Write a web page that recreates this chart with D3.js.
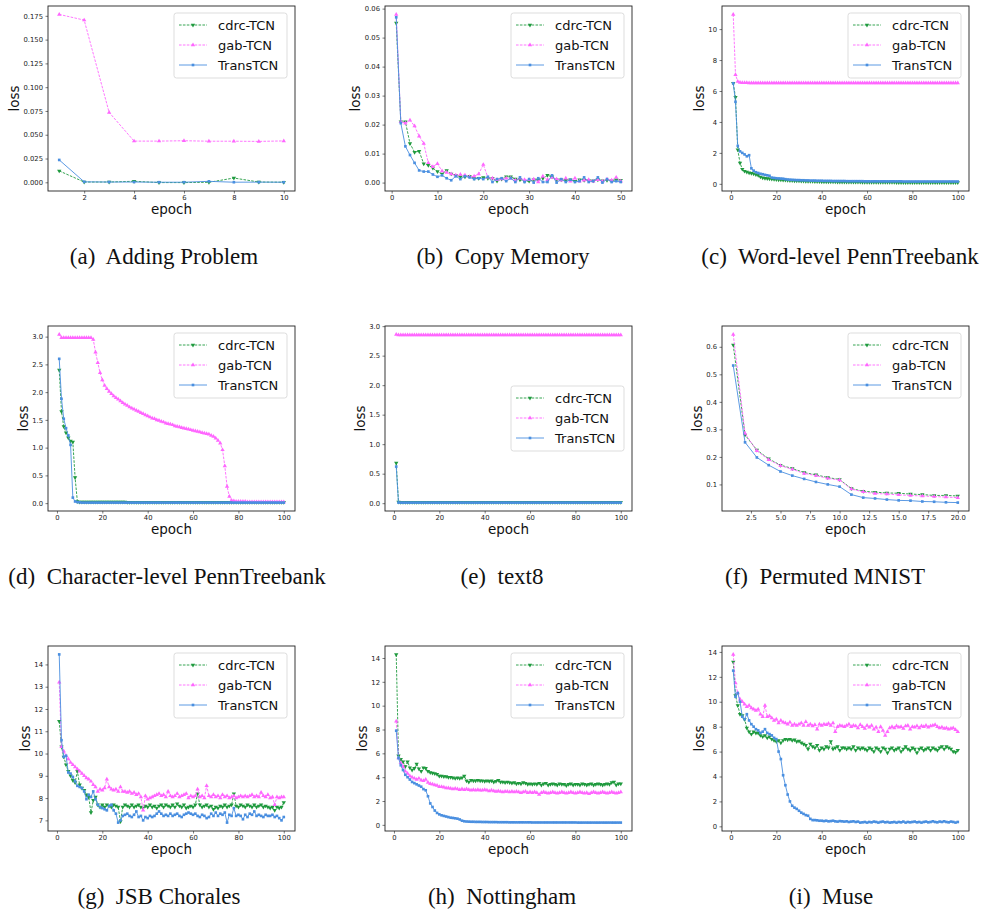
<!DOCTYPE html>
<html>
<head>
<meta charset="utf-8">
<script src="https://cdn.jsdelivr.net/npm/d3@7"></script>
<style>
  body { margin: 0; background: #fff; }
  text { font-family: "DejaVu Sans", sans-serif; }
</style>
</head>
<body>
<svg id="fig" width="984" height="909"></svg>
<script>
// ---- data (loss per epoch, epoch = index + 1) ----
const seriesNames = ["cdrc-TCN", "gab-TCN", "TransTCN"];

// (a) Adding Problem
const addCdrc = [0.012, 0.0003, 0.0003, 0.0011, -0.0003, -0.0003, 0.0, 0.0045, 0.0003, 0.0001];
const addGab = [0.1765, 0.1705, 0.0735, 0.0433, 0.0433, 0.0437, 0.0432, 0.0432, 0.043, 0.0435];
const addTrans = [0.0235, 0.0005, 0.0003, 0.0003, 0.0001, 0.0001, 0.001, 0.0001, 0.0002, 0.0001];

// (b) Copy Memory
const copyCdrc = [
  0.055, 0.021, 0.021, 0.0135, 0.0105, 0.0108, 0.0065, 0.006, 0.005, 0.0038,
  0.003, 0.0042, 0.003, 0.0025, 0.002, 0.002, 0.0022, 0.0015, 0.0015, 0.0018,
  0.0015, 0.0015, 0.0005, 0.0012, 0.002, 0.002, 0.0012, 0.001, 0.0005, 0.0005,
  0.001, 0.001, 0.0015, 0.0025, 0.002, 0.001, 0.001, 0.0008, 0.001, 0.0005,
  0.001, 0.0008, 0.0008, 0.0006, 0.001, 0.0006, 0.0008, 0.0006, 0.001, 0.0008];
const copyGab = [
  0.058, 0.021, 0.0205, 0.0215, 0.0195, 0.016, 0.0135, 0.0068, 0.0055, 0.0065,
  0.004, 0.0035, 0.003, 0.0025, 0.0028, 0.0025, 0.002, 0.0022, 0.003, 0.0062,
  0.0018, 0.0015, 0.001, 0.0012, 0.0015, 0.0015, 0.0008, 0.0015, 0.001, 0.001,
  0.0012, 0.0002, 0.0022, 0.001, 0.0018, 0.0012, 0.0008, 0.0015, 0.0005, 0.0015,
  0.0005, 0.0008, 0.001, 0.0005, 0.001, 0.0005, 0.0012, 0.0008, 0.0018, 0.0005];
const copyTrans = [
  0.057, 0.0205, 0.0125, 0.0095, 0.0068, 0.0042, 0.0038, 0.0038, 0.0028, 0.002,
  0.0025, 0.0015, 0.0008, 0.0022, 0.0012, 0.0022, 0.0018, 0.0012, 0.0015, 0.0012,
  0.002, 0.0002, 0.0012, 0.0015, 0.0005, 0.0015, 0.0002, 0.0018, 0.0002, 0.0012,
  0.0, 0.0015, 0.0002, 0.0002, 0.0025, 0.0, 0.0012, 0.0002, 0.001, 0.0002,
  0.0005, 0.0018, 0.0002, 0.0005, 0.0018, 0.0, 0.0012, 0.0002, 0.0005, 0.0002];

// (c) Word-level PennTreebank
const wordCdrc = [
  6.5, 5.6, 2.2, 1.35, 0.95, 0.82, 0.76, 0.72, 0.68, 0.65,
  0.6, 0.55, 0.45, 0.39, 0.36, 0.34, 0.33, 0.31, 0.29, 0.28,
  0.27, 0.26, 0.25, 0.24, 0.23, 0.22, 0.21, 0.2, 0.2, 0.19,
  0.18, 0.18, 0.17, 0.17, 0.16, 0.16, 0.15, 0.15, 0.15, 0.14,
  0.14, 0.14, 0.13, 0.13, 0.13, 0.13, 0.12, 0.12, 0.12, 0.12,
  0.12, 0.11, 0.11, 0.11, 0.11, 0.11, 0.11, 0.1, 0.1, 0.1,
  0.1, 0.1, 0.1, 0.1, 0.1, 0.1, 0.1, 0.1, 0.1, 0.1,
  0.1, 0.1, 0.09, 0.09, 0.09, 0.09, 0.09, 0.09, 0.09, 0.09,
  0.09, 0.09, 0.09, 0.09, 0.09, 0.09, 0.09, 0.09, 0.09, 0.09,
  0.09, 0.09, 0.09, 0.08, 0.08, 0.08, 0.08, 0.08, 0.08, 0.08];
const wordGab = [
  10.95, 7.05, 6.62, 6.55, 6.54, 6.53, 6.53, 6.52, 6.52, 6.52,
  6.52, 6.52, 6.52, 6.52, 6.52, 6.52, 6.52, 6.52, 6.52, 6.52,
  6.52, 6.52, 6.52, 6.52, 6.52, 6.52, 6.52, 6.52, 6.52, 6.52,
  6.52, 6.52, 6.52, 6.52, 6.52, 6.52, 6.52, 6.52, 6.52, 6.52,
  6.52, 6.52, 6.52, 6.52, 6.52, 6.52, 6.52, 6.52, 6.52, 6.52,
  6.52, 6.52, 6.52, 6.52, 6.52, 6.52, 6.52, 6.52, 6.52, 6.52,
  6.52, 6.52, 6.52, 6.52, 6.52, 6.52, 6.52, 6.52, 6.52, 6.52,
  6.52, 6.52, 6.52, 6.52, 6.52, 6.52, 6.52, 6.52, 6.52, 6.52,
  6.52, 6.52, 6.52, 6.52, 6.52, 6.52, 6.52, 6.52, 6.52, 6.52,
  6.52, 6.52, 6.52, 6.52, 6.52, 6.52, 6.52, 6.52, 6.52, 6.52];
const wordTrans = [
  6.5, 5.3, 2.45, 2.1, 2.0, 1.9, 1.78, 1.85, 1.0, 0.85,
  0.75, 0.7, 0.65, 0.62, 0.58, 0.55, 0.52, 0.4, 0.38, 0.36,
  0.35, 0.34, 0.33, 0.3, 0.28, 0.27, 0.26, 0.25, 0.24, 0.24,
  0.23, 0.23, 0.22, 0.22, 0.21, 0.21, 0.21, 0.2, 0.2, 0.2,
  0.19, 0.19, 0.19, 0.19, 0.18, 0.18, 0.18, 0.18, 0.18, 0.18,
  0.17, 0.17, 0.17, 0.17, 0.17, 0.17, 0.17, 0.17, 0.16, 0.16,
  0.16, 0.16, 0.16, 0.16, 0.16, 0.16, 0.16, 0.16, 0.16, 0.16,
  0.16, 0.16, 0.16, 0.16, 0.16, 0.15, 0.15, 0.15, 0.15, 0.15,
  0.15, 0.15, 0.15, 0.15, 0.15, 0.15, 0.15, 0.15, 0.15, 0.15,
  0.15, 0.15, 0.15, 0.15, 0.15, 0.15, 0.15, 0.15, 0.15, 0.15];

// (d) Character-level PennTreebank
const charCdrc = [
  2.4, 1.65, 1.38, 1.27, 1.18, 1.12, 1.1, 0.46, 0.03, 0.02,
  0.02, 0.02, 0.02, 0.02, 0.02, 0.02, 0.02, 0.02, 0.02, 0.02,
  0.02, 0.02, 0.02, 0.02, 0.02, 0.02, 0.02, 0.02, 0.02, 0.02,
  0.015, 0.015, 0.015, 0.015, 0.015, 0.015, 0.015, 0.015, 0.015, 0.015,
  0.015, 0.015, 0.015, 0.015, 0.015, 0.015, 0.015, 0.015, 0.015, 0.015,
  0.015, 0.015, 0.015, 0.015, 0.015, 0.015, 0.015, 0.015, 0.015, 0.015,
  0.015, 0.015, 0.015, 0.015, 0.015, 0.015, 0.015, 0.015, 0.015, 0.015,
  0.015, 0.015, 0.015, 0.015, 0.015, 0.015, 0.015, 0.015, 0.015, 0.015,
  0.015, 0.015, 0.015, 0.015, 0.015, 0.015, 0.015, 0.015, 0.015, 0.015,
  0.015, 0.015, 0.015, 0.015, 0.015, 0.015, 0.015, 0.015, 0.015, 0.015];
const charGab = [
  3.04, 2.98, 2.98, 2.98, 2.98, 2.98, 2.98, 2.98, 2.98, 2.98,
  2.98, 2.98, 2.98, 2.98, 2.98, 2.95, 2.72, 2.53, 2.35, 2.22,
  2.12, 2.06, 2.01, 1.97, 1.93, 1.9, 1.87, 1.84, 1.81, 1.78,
  1.76, 1.73, 1.71, 1.69, 1.67, 1.65, 1.63, 1.61, 1.59, 1.57,
  1.55, 1.53, 1.52, 1.5, 1.49, 1.47, 1.46, 1.44, 1.43, 1.42,
  1.41, 1.39, 1.38, 1.37, 1.36, 1.35, 1.34, 1.33, 1.32, 1.31,
  1.3, 1.29, 1.28, 1.27, 1.26, 1.25, 1.24, 1.22, 1.2, 1.17,
  1.13, 1.08, 0.96, 0.67, 0.3, 0.12, 0.05, 0.04, 0.03, 0.03,
  0.03, 0.03, 0.03, 0.02, 0.02, 0.02, 0.02, 0.02, 0.02, 0.02,
  0.02, 0.02, 0.02, 0.02, 0.02, 0.02, 0.02, 0.02, 0.02, 0.02];
const charTrans = [
  2.6, 1.88, 1.52, 1.35, 1.22, 1.05, 0.1, 0.03, 0.02, 0.015,
  0.01, 0.01, 0.01, 0.01, 0.01, 0.01, 0.01, 0.01, 0.01, 0.01,
  0.01, 0.01, 0.01, 0.01, 0.01, 0.01, 0.01, 0.01, 0.01, 0.01,
  0.01, 0.01, 0.01, 0.01, 0.01, 0.01, 0.01, 0.01, 0.01, 0.01,
  0.01, 0.01, 0.01, 0.01, 0.01, 0.01, 0.01, 0.01, 0.01, 0.01,
  0.01, 0.01, 0.01, 0.01, 0.01, 0.01, 0.01, 0.01, 0.01, 0.01,
  0.01, 0.01, 0.01, 0.01, 0.01, 0.01, 0.01, 0.01, 0.01, 0.01,
  0.01, 0.01, 0.01, 0.01, 0.01, 0.01, 0.01, 0.01, 0.01, 0.01,
  0.01, 0.01, 0.01, 0.01, 0.01, 0.01, 0.01, 0.01, 0.01, 0.01,
  0.01, 0.01, 0.01, 0.01, 0.01, 0.01, 0.01, 0.01, 0.01, 0.01];

// (e) text8
const t8Cdrc = [
  0.68, 0.02, 0.015, 0.015, 0.015, 0.015, 0.015, 0.015, 0.015, 0.015,
  0.015, 0.015, 0.015, 0.015, 0.015, 0.015, 0.015, 0.015, 0.015, 0.015,
  0.015, 0.015, 0.015, 0.015, 0.015, 0.015, 0.015, 0.015, 0.015, 0.015,
  0.015, 0.015, 0.015, 0.015, 0.015, 0.015, 0.015, 0.015, 0.015, 0.015,
  0.015, 0.015, 0.015, 0.015, 0.015, 0.015, 0.015, 0.015, 0.015, 0.015,
  0.015, 0.015, 0.015, 0.015, 0.015, 0.015, 0.015, 0.015, 0.015, 0.015,
  0.015, 0.015, 0.015, 0.015, 0.015, 0.015, 0.015, 0.015, 0.015, 0.015,
  0.015, 0.015, 0.015, 0.015, 0.015, 0.015, 0.015, 0.015, 0.015, 0.015,
  0.015, 0.015, 0.015, 0.015, 0.015, 0.015, 0.015, 0.015, 0.015, 0.015,
  0.015, 0.015, 0.015, 0.015, 0.015, 0.015, 0.015, 0.015, 0.015, 0.015];
const t8Gab = [
  2.86, 2.85, 2.85, 2.85, 2.85, 2.85, 2.85, 2.85, 2.85, 2.85,
  2.85, 2.85, 2.85, 2.85, 2.85, 2.85, 2.85, 2.85, 2.85, 2.85,
  2.85, 2.85, 2.85, 2.85, 2.85, 2.85, 2.85, 2.85, 2.85, 2.85,
  2.85, 2.85, 2.85, 2.85, 2.85, 2.85, 2.85, 2.85, 2.85, 2.85,
  2.85, 2.85, 2.85, 2.85, 2.85, 2.85, 2.85, 2.85, 2.85, 2.85,
  2.85, 2.85, 2.85, 2.85, 2.85, 2.85, 2.85, 2.85, 2.85, 2.85,
  2.85, 2.85, 2.85, 2.85, 2.85, 2.85, 2.85, 2.85, 2.85, 2.85,
  2.85, 2.85, 2.85, 2.85, 2.85, 2.85, 2.85, 2.85, 2.85, 2.85,
  2.85, 2.85, 2.85, 2.85, 2.85, 2.85, 2.85, 2.85, 2.85, 2.85,
  2.85, 2.85, 2.85, 2.85, 2.85, 2.85, 2.85, 2.85, 2.85, 2.85];
const t8Trans = [
  0.62, 0.01, 0.01, 0.01, 0.01, 0.01, 0.01, 0.01, 0.01, 0.01,
  0.01, 0.01, 0.01, 0.01, 0.01, 0.01, 0.01, 0.01, 0.01, 0.01,
  0.01, 0.01, 0.01, 0.01, 0.01, 0.01, 0.01, 0.01, 0.01, 0.01,
  0.01, 0.01, 0.01, 0.01, 0.01, 0.01, 0.01, 0.01, 0.01, 0.01,
  0.01, 0.01, 0.01, 0.01, 0.01, 0.01, 0.01, 0.01, 0.01, 0.01,
  0.01, 0.01, 0.01, 0.01, 0.01, 0.01, 0.01, 0.01, 0.01, 0.01,
  0.01, 0.01, 0.01, 0.01, 0.01, 0.01, 0.01, 0.01, 0.01, 0.01,
  0.01, 0.01, 0.01, 0.01, 0.01, 0.01, 0.01, 0.01, 0.01, 0.01,
  0.01, 0.01, 0.01, 0.01, 0.01, 0.01, 0.01, 0.01, 0.01, 0.01,
  0.01, 0.01, 0.01, 0.01, 0.01, 0.01, 0.01, 0.01, 0.01, 0.01];

// (f) Permuted MNIST
const mnistCdrc = [0.607, 0.28, 0.225, 0.193, 0.17, 0.158, 0.143, 0.135, 0.125, 0.118,
  0.085, 0.075, 0.072, 0.069, 0.068, 0.065, 0.063, 0.06, 0.06, 0.058];
const mnistGab = [0.645, 0.285, 0.222, 0.19, 0.168, 0.155, 0.14, 0.132, 0.122, 0.116,
  0.083, 0.073, 0.067, 0.065, 0.062, 0.06, 0.058, 0.056, 0.054, 0.052];
const mnistTrans = [0.532, 0.253, 0.198, 0.17, 0.147, 0.132, 0.12, 0.109, 0.1, 0.092,
  0.063, 0.052, 0.049, 0.045, 0.042, 0.041, 0.038, 0.037, 0.035, 0.034];

// (g) JSB Chorales
const jsbCdrc = [
  11.45, 10.3, 9.85, 9.5, 9.2, 9.0, 8.8, 8.7, 9.2, 8.6,
  8.45, 8.35, 8.15, 8.05, 7.35, 7.9, 8.05, 7.7, 7.6, 7.7,
  7.6, 7.7, 7.65, 7.6, 7.7, 7.65, 7.6, 6.95, 7.6, 7.7,
  7.65, 7.6, 7.7, 7.6, 7.65, 7.7, 7.6, 7.55, 7.65, 7.6,
  7.7, 7.6, 7.65, 7.55, 7.65, 7.7, 7.6, 7.7, 7.65, 7.6,
  7.7, 7.6, 7.75, 7.65, 7.6, 7.7, 7.55, 7.6, 7.65, 7.6,
  7.7, 8.2, 7.7, 7.6, 7.65, 7.7, 7.6, 7.65, 7.5, 7.6,
  7.55, 7.65, 7.6, 7.7, 7.6, 7.65, 7.7, 8.2, 7.65, 7.6,
  7.7, 7.65, 7.6, 7.7, 7.65, 7.6, 7.7, 7.6, 7.65, 7.7,
  7.6, 7.65, 7.6, 7.55, 7.6, 7.45, 7.6, 7.55, 7.6, 7.8];
const jsbGab = [
  13.2, 10.3, 10.1, 9.9, 9.75, 9.6, 9.5, 9.4, 9.3, 9.2,
  9.1, 9.0, 8.9, 8.85, 8.75, 8.6, 8.5, 8.3, 8.4, 8.35,
  8.45, 8.85, 8.5, 8.4, 8.35, 8.4, 8.3, 8.5, 8.3, 8.3,
  8.25, 8.3, 8.2, 8.25, 8.15, 8.2, 8.05, 7.45, 8.1, 7.95,
  8.0, 8.05, 8.1, 8.15, 8.2, 8.1, 8.15, 8.05, 8.3, 8.1,
  8.05, 8.1, 8.2, 8.05, 8.1, 8.15, 8.2, 8.0, 8.1, 8.05,
  8.1, 8.4, 8.05, 8.1, 8.0, 8.55, 8.1, 8.05, 8.15, 8.05,
  8.1, 8.0, 8.15, 8.05, 8.1, 8.0, 8.05, 8.1, 8.0, 8.05,
  8.1, 8.05, 8.1, 8.05, 8.1, 8.15, 8.05, 8.1, 8.05, 8.25,
  8.1, 8.05, 8.15, 8.0, 8.05, 7.7, 8.05, 8.0, 8.05, 8.05];
const jsbTrans = [
  14.45, 10.6, 9.85, 9.9, 9.15, 9.1, 8.95, 8.75, 8.55, 8.5,
  8.45, 8.3, 7.95, 8.15, 8.05, 8.3, 7.95, 7.7, 7.6, 7.55,
  7.5, 7.45, 7.65, 7.7, 7.45, 7.3, 6.9, 7.0, 7.2, 7.25,
  7.3, 7.2, 7.15, 7.25, 7.4, 7.15, 7.2, 7.0, 7.15, 7.1,
  7.2, 7.15, 7.2, 7.3, 7.4, 7.3, 7.2, 7.25, 7.2, 7.3,
  7.2, 7.25, 7.3, 7.2, 7.15, 7.25, 7.3, 7.35, 7.3, 7.25,
  7.3, 7.2, 7.15, 7.25, 7.2, 7.1, 7.15, 7.3, 7.2, 7.35,
  7.2, 7.3, 7.25, 7.35, 6.9, 7.25, 7.2, 7.55, 7.2, 7.25,
  7.2, 7.05, 7.25, 7.15, 7.3, 7.25, 7.4, 7.2, 7.25, 7.2,
  7.15, 7.25, 7.2, 7.2, 7.25, 7.15, 7.2, 7.1, 7.0, 7.15];

// (h) Nottingham
const nottCdrc = [
  14.3, 5.8, 5.5, 5.3, 4.9, 5.3, 4.8, 4.6, 4.75, 5.1,
  4.7, 4.5, 4.8, 4.75, 4.5, 4.4, 4.35, 4.3, 4.25, 4.1,
  4.1, 4.05, 4.05, 4.0, 4.0, 3.95, 3.9, 3.95, 3.9, 3.95,
  4.1, 3.7, 3.6, 3.75, 3.7, 3.7, 3.75, 3.7, 3.7, 3.65,
  3.7, 3.65, 3.7, 3.6, 3.65, 3.75, 3.6, 3.6, 3.55, 3.6,
  3.55, 3.5, 3.55, 3.45, 3.5, 3.45, 3.55, 3.5, 3.4, 3.45,
  3.4, 3.45, 3.4, 3.5, 3.35, 3.45, 3.5, 3.35, 3.4, 3.45,
  3.4, 3.35, 3.45, 3.4, 3.4, 3.3, 3.4, 3.45, 3.35, 3.4,
  3.4, 3.35, 3.45, 3.4, 3.35, 3.4, 3.45, 3.35, 3.4, 3.45,
  3.4, 3.35, 3.4, 3.45, 3.4, 3.55, 3.6, 3.35, 3.45, 3.45];
const nottGab = [
  8.7, 5.6, 5.2, 4.9, 4.5, 4.3, 4.1, 4.0, 3.9, 3.8,
  3.9, 3.75, 3.7, 3.8, 3.55, 3.45, 3.4, 3.35, 3.3, 3.2,
  3.2, 3.15, 3.1, 3.1, 3.05, 3.0, 3.05, 3.0, 2.95, 3.0,
  2.95, 3.0, 2.95, 2.9, 2.95, 2.9, 2.95, 2.9, 2.9, 2.95,
  2.9, 2.85, 2.9, 2.85, 2.8, 2.85, 2.8, 2.75, 2.8, 2.8,
  2.75, 2.8, 2.75, 2.8, 2.75, 2.7, 2.75, 2.8, 2.7, 2.75,
  2.7, 2.75, 2.7, 2.55, 2.7, 2.75, 2.7, 2.65, 2.7, 2.75,
  2.7, 2.65, 2.7, 2.75, 2.7, 2.65, 2.7, 2.75, 2.7, 2.65,
  2.7, 2.75, 2.7, 2.65, 2.7, 2.6, 2.7, 2.75, 2.7, 2.65,
  2.7, 2.75, 2.7, 2.65, 2.7, 2.75, 2.7, 2.65, 2.7, 2.75];
const nottTrans = [
  7.9, 5.6, 5.0, 4.6, 4.2, 4.0, 3.8, 3.6, 3.5, 3.4,
  3.3, 3.2, 3.0, 2.9, 2.4, 1.8, 1.5, 1.2, 1.0, 0.88,
  0.8, 0.75, 0.7, 0.65, 0.6, 0.58, 0.55, 0.52, 0.45, 0.35,
  0.3, 0.28, 0.27, 0.26, 0.26, 0.25, 0.25, 0.25, 0.24, 0.24,
  0.24, 0.23, 0.23, 0.23, 0.23, 0.22, 0.22, 0.22, 0.22, 0.22,
  0.21, 0.21, 0.21, 0.21, 0.21, 0.21, 0.21, 0.21, 0.21, 0.21,
  0.2, 0.2, 0.2, 0.2, 0.2, 0.2, 0.2, 0.2, 0.2, 0.2,
  0.2, 0.2, 0.2, 0.2, 0.2, 0.2, 0.2, 0.2, 0.2, 0.2,
  0.19, 0.19, 0.19, 0.19, 0.19, 0.19, 0.19, 0.19, 0.19, 0.19,
  0.19, 0.19, 0.19, 0.19, 0.19, 0.19, 0.19, 0.19, 0.19, 0.19];

// (i) Muse
const museCdrc = [
  13.2, 10.5, 9.7, 9.0, 8.9, 8.6, 7.9, 7.6, 7.4, 7.6,
  7.5, 7.5, 7.3, 7.2, 7.3, 7.1, 7.2, 7.0, 6.9, 6.8,
  6.9, 6.7, 6.9, 7.0, 6.95, 7.0, 6.9, 6.95, 6.8, 6.85,
  6.7, 6.6, 6.5, 6.2, 6.6, 6.4, 6.3, 6.5, 6.1, 6.3,
  6.2, 6.4, 6.3, 6.8, 6.2, 6.3, 6.4, 6.1, 6.3, 6.3,
  6.2, 6.3, 6.2, 6.4, 6.1, 6.3, 6.2, 6.3, 6.2, 6.1,
  6.3, 6.2, 6.0, 6.3, 6.2, 6.0, 6.3, 6.2, 5.9, 6.2,
  6.3, 6.1, 6.2, 6.3, 6.0, 6.2, 6.4, 6.2, 6.1, 6.3,
  6.2, 5.9, 6.2, 6.3, 6.1, 6.2, 6.3, 6.1, 6.3, 6.2,
  6.1, 6.3, 6.4, 6.2, 6.4, 6.3, 6.2, 6.0, 5.95, 6.1];
const museGab = [
  13.8, 11.5, 10.7, 10.2, 10.0, 9.8, 9.6, 9.7, 9.5, 9.4,
  9.3, 9.4, 9.0, 8.8, 9.7, 8.8, 8.85, 8.7, 8.5, 8.6,
  8.3, 8.5, 8.35, 8.3, 8.2, 8.35, 8.1, 8.2, 8.1, 8.2,
  8.3, 8.1, 8.4, 8.1, 8.2, 8.05, 8.15, 7.8, 8.2, 8.1,
  8.2, 8.15, 8.25, 8.1, 8.3, 7.6, 8.0, 8.1, 8.05, 8.0,
  8.1, 8.2, 8.0, 8.1, 8.05, 7.9, 8.15, 8.0, 7.85, 8.1,
  7.95, 8.1, 7.8, 7.95, 7.6, 8.0, 7.7, 7.3, 7.6, 7.9,
  8.0, 7.9, 8.05, 7.95, 8.0, 7.85, 8.05, 8.1, 7.8, 8.0,
  7.95, 8.05, 7.9, 8.05, 8.0, 8.1, 7.95, 8.05, 8.1, 8.15,
  8.0, 7.9, 7.95, 7.85, 7.9, 7.8, 7.85, 7.9, 7.75, 7.6];
const museTrans = [
  12.5, 10.4, 10.7, 10.0, 8.8, 8.6, 9.0, 8.5, 8.2, 8.0,
  7.8, 7.7, 7.5, 7.6, 7.8, 7.5, 7.4, 7.3, 7.1, 7.0,
  6.0, 5.4, 4.1, 3.3, 2.55, 2.0, 1.65, 1.5, 1.4, 1.25,
  1.1, 1.0, 0.9, 0.85, 0.6, 0.5, 0.5, 0.48, 0.45, 0.45,
  0.42, 0.45, 0.4, 0.42, 0.45, 0.4, 0.38, 0.42, 0.4, 0.38,
  0.4, 0.35, 0.38, 0.4, 0.35, 0.38, 0.3, 0.32, 0.35, 0.3,
  0.35, 0.32, 0.38, 0.35, 0.3, 0.35, 0.38, 0.32, 0.35, 0.3,
  0.32, 0.35, 0.3, 0.35, 0.32, 0.38, 0.3, 0.35, 0.32, 0.35,
  0.38, 0.32, 0.35, 0.3, 0.35, 0.38, 0.32, 0.35, 0.4, 0.35,
  0.32, 0.38, 0.35, 0.4, 0.35, 0.32, 0.38, 0.35, 0.3, 0.35];

// tick values
const ticks100 = [0, 20, 40, 60, 80, 100];
const ticksLoss3 = [0, 0.5, 1.0, 1.5, 2.0, 2.5, 3.0];
const ticksLoss14 = [0, 2, 4, 6, 8, 10, 12, 14];

const panels = [
  { cap: "(a)  Adding Problem", capX: 164, data: [addCdrc, addGab, addTrans],
    xt: [2, 4, 6, 8, 10], xf: "d", yt: [0, 0.025, 0.05, 0.075, 0.1, 0.125, 0.15, 0.175], yf: ".3f", leg: "upper" },
  { cap: "(b)  Copy Memory", capX: 503, data: [copyCdrc, copyGab, copyTrans],
    xt: [0, 10, 20, 30, 40, 50], xf: "d", yt: [0, 0.01, 0.02, 0.03, 0.04, 0.05, 0.06], yf: ".2f", leg: "upper" },
  { cap: "(c)  Word-level PennTreebank", capX: 840, data: [wordCdrc, wordGab, wordTrans],
    xt: ticks100, xf: "d", yt: [0, 2, 4, 6, 8, 10], yf: "d", leg: "upper" },
  { cap: "(d)  Character-level PennTreebank", capX: 167, data: [charCdrc, charGab, charTrans],
    xt: ticks100, xf: "d", yt: ticksLoss3, yf: ".1f", leg: "upper" },
  { cap: "(e)  text8", capX: 502, data: [t8Cdrc, t8Gab, t8Trans],
    xt: ticks100, xf: "d", yt: ticksLoss3, yf: ".1f", leg: "center" },
  { cap: "(f)  Permuted MNIST", capX: 825, data: [mnistCdrc, mnistGab, mnistTrans],
    xt: [2.5, 5, 7.5, 10, 12.5, 15, 17.5, 20], xf: ".1f", yt: [0.1, 0.2, 0.3, 0.4, 0.5, 0.6], yf: ".1f", leg: "upper" },
  { cap: "(g)  JSB Chorales", capX: 159, data: [jsbCdrc, jsbGab, jsbTrans],
    xt: ticks100, xf: "d", yt: [7, 8, 9, 10, 11, 12, 13, 14], yf: "d", leg: "upper" },
  { cap: "(h)  Nottingham", capX: 502, data: [nottCdrc, nottGab, nottTrans],
    xt: ticks100, xf: "d", yt: ticksLoss14, yf: "d", leg: "upper" },
  { cap: "(i)  Muse", capX: 831, data: [museCdrc, museGab, museTrans],
    xt: ticks100, xf: "d", yt: ticksLoss14, yf: "d", leg: "upper" }
];

// ---- layout / style ----
const colX = [48, 385, 722];
const rowY = [6, 326, 646];
const W = 247, H = 185;
const capBase = [264, 584, 904];
const styles = [
  { color: "#1f9a3e", dash: "2.6,1.3", mark: "down" },
  { color: "#ff66ff", dash: "2.6,1.3", mark: "up" },
  { color: "#4a8fe0", dash: null, mark: "square" }
];

const svg = d3.select("#fig");
const triSym = d3.symbol().type(d3.symbolTriangle).size(8)();
const sqSym = d3.symbol().type(d3.symbolSquare).size(7)();

function drawMarkers(g, pts, st) {
  g.selectAll(null).data(pts).enter().append("path")
    .attr("d", st.mark === "square" ? sqSym : triSym)
    .attr("transform", d => `translate(${d[0]},${d[1]})` + (st.mark === "down" ? " rotate(180)" : ""))
    .attr("fill", st.color)
    .attr("stroke", "none");
}

panels.forEach((p, k) => {
  const ox = colX[k % 3], oy = rowY[Math.floor(k / 3)];
  const g = svg.append("g").attr("transform", `translate(${ox},${oy})`);

  const n = p.data[0].length;
  const all = p.data.flat();
  const lo = d3.min(all), hi = d3.max(all), pad = (hi - lo) * 0.05;
  const y = d3.scaleLinear().domain([lo - pad, hi + pad]).range([H, 0]);
  const xpad = (n - 1) * 0.05;
  const x = d3.scaleLinear().domain([1 - xpad, n + xpad]).range([0, W]);

  // series
  const line = d3.line().x((d, i) => x(i + 1)).y(d => y(d));
  p.data.forEach((vals, s) => {
    const st = styles[s];
    const sg = g.append("g");
    sg.append("path")
      .attr("d", line(vals))
      .attr("fill", "none")
      .attr("stroke", st.color)
      .attr("stroke-width", 0.9)
      .attr("stroke-dasharray", st.dash);
    drawMarkers(sg, vals.map((v, i) => [x(i + 1), y(v)]), st);
  });

  // axes
  const xa = g.append("g").attr("transform", `translate(0,${H})`)
    .call(d3.axisBottom(x).tickValues(p.xt).tickFormat(d3.format(p.xf)).tickSize(2.5).tickPadding(2));
  const ya = g.append("g")
    .call(d3.axisLeft(y).tickValues(p.yt).tickFormat(d3.format(p.yf)).tickSize(2.5).tickPadding(2.5));
  [xa, ya].forEach(a => {
    a.select(".domain").remove();
    a.selectAll(".tick line").attr("stroke", "#222").attr("stroke-width", 0.6);
    a.selectAll(".tick text").attr("fill", "#222")
      .style("font-family", "DejaVu Sans").style("font-size", "6.8px");
  });

  g.append("rect").attr("width", W).attr("height", H)
    .attr("fill", "none").attr("stroke", "#222").attr("stroke-width", 0.9);

  // axis labels
  let maxW = 0;
  ya.selectAll(".tick text").each(function () { maxW = Math.max(maxW, this.getBBox().width); });
  g.append("text")
    .attr("transform", `translate(${-5 - maxW - 4.5},${H / 2}) rotate(-90)`)
    .attr("text-anchor", "middle")
    .style("font-size", "13.5px")
    .attr("fill", "#111")
    .text("loss");
  g.append("text")
    .attr("x", W / 2).attr("y", H + 23)
    .attr("text-anchor", "middle")
    .style("font-size", "13.5px")
    .attr("fill", "#111")
    .text("epoch");

  // legend
  const lw = 113, lh = 65;
  const lx = W - 8 - lw;
  const ly = p.leg === "upper" ? 7 : (H - lh) / 2;
  const lg = g.append("g").attr("transform", `translate(${lx},${ly})`);
  lg.append("rect").attr("width", lw).attr("height", lh).attr("rx", 2.5)
    .attr("fill", "#fff").attr("fill-opacity", 0.8)
    .attr("stroke", "#d4d4d4").attr("stroke-width", 0.8);
  seriesNames.forEach((name, s) => {
    const st = styles[s];
    const ry = 12 + s * 20;
    lg.append("line").attr("x1", 5).attr("x2", 33).attr("y1", ry).attr("y2", ry)
      .attr("stroke", st.color).attr("stroke-width", 0.9).attr("stroke-dasharray", st.dash);
    drawMarkers(lg, [[19, ry]], st);
    lg.append("text").attr("x", 44).attr("y", ry).attr("dy", "0.36em")
      .style("font-size", "13px").attr("fill", "#111").text(name);
  });

  // caption
  svg.append("text")
    .attr("x", p.capX).attr("y", capBase[Math.floor(k / 3)])
    .attr("text-anchor", "middle")
    .style("font-family", "'Liberation Serif', 'Times New Roman', serif")
    .style("font-size", "23px")
    .attr("fill", "#111")
    .style("white-space", "pre")
    .text(p.cap);
});
</script>
</body>
</html>
